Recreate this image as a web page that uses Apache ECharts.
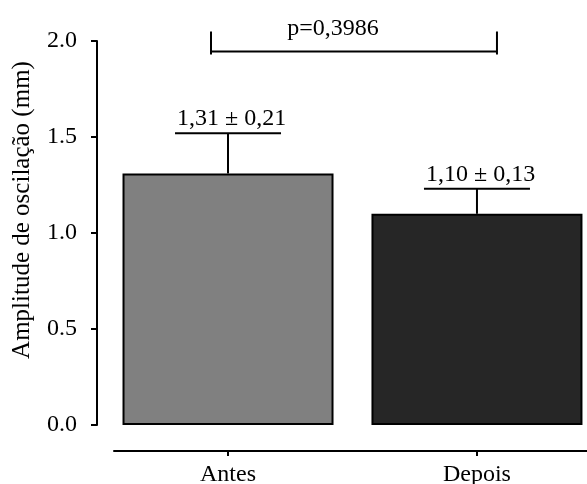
<!DOCTYPE html>
<html>
<head>
<meta charset="utf-8">
<script src="https://cdn.jsdelivr.net/npm/echarts@6/dist/echarts.min.js"></script>
<style>html,body{margin:0;padding:0;background:#fff}#c{width:587px;height:484px}</style>
</head>
<body>
<div id="c"></div>
<script>
const categories = ['Antes', 'Depois'];
const means = [1.31, 1.10];
const sds = [0.21, 0.13];
const pLabel = 'p=0,3986';
const yTicks = [0, 0.5, 1.0, 1.5, 2.0];
const barColors = ['#808080', '#262626'];
const yName = 'Amplitude de oscilação (mm)';

const FONT = 'Liberation Serif, Times New Roman, serif';
const fmt = v => v.toFixed(2).replace('.', ',');
const LW = 2;

const chart = echarts.init(document.getElementById('c'), null, {renderer: 'canvas'});
const idx = categories.map((c, i) => i);

chart.setOption({
  animation: false,
  backgroundColor: '#fff',
  grid: {left: 114, right: 0, top: 41, bottom: 59, containLabel: false, outerBoundsMode: 'none'},
  xAxis: {
    type: 'value', min: -0.458, max: 1.442, offset: 26,
    splitLine: {show: false},
    axisLine: {show: true, onZero: false, lineStyle: {color: '#000', width: LW}},
    axisTick: {show: true, customValues: idx, length: 5, lineStyle: {color: '#000', width: LW}},
    axisLabel: {customValues: idx, formatter: v => categories[Math.round(v)] || '', fontFamily: FONT, fontSize: 24, color: '#000', margin: 12}
  },
  yAxis: {
    type: 'value', min: yTicks[0], max: yTicks[yTicks.length - 1], interval: 0.5, offset: 17,
    splitLine: {show: false},
    axisLine: {show: true, onZero: false, lineStyle: {color: '#000', width: LW}},
    axisTick: {show: true, length: 6, lineStyle: {color: '#000', width: LW}},
    axisLabel: {formatter: v => v.toFixed(1), fontFamily: FONT, fontSize: 24, color: '#000', margin: 20},
    name: yName, nameLocation: 'middle', nameGap: 62,
    nameTextStyle: {fontFamily: FONT, fontSize: 25, color: '#000', padding: [0, 0, 0, 46]}
  },
  series: [
    {
      type: 'bar', barWidth: 211,
      data: idx.map(i => ({value: [i, means[i]], itemStyle: {color: barColors[i]}})),
      itemStyle: {borderColor: '#000', borderWidth: LW},
      z: 2
    },
    {
      type: 'custom', z: 3,
      data: idx.map(i => [i, means[i], sds[i]]),
      encode: {x: 0, y: 1},
      renderItem: function (params, api) {
        const x = api.value(0), m = api.value(1), s = api.value(2);
        const p0 = api.coord([x, m]);
        const p1 = api.coord([x, m + s]);
        const hw = 53;
        const st = {stroke: '#000', lineWidth: LW};
        return {
          type: 'group',
          children: [
            {type: 'line', shape: {x1: p0[0], y1: p0[1], x2: p1[0], y2: p1[1]}, style: st},
            {type: 'line', shape: {x1: p1[0] - hw, y1: p1[1], x2: p1[0] + hw, y2: p1[1]}, style: st},
            {type: 'text', style: {text: fmt(m) + ' ± ' + fmt(s), x: p1[0] - hw + 2, y: p1[1] - 2,
              align: 'left', verticalAlign: 'bottom', fontFamily: FONT, fontSize: 24, fill: '#000'}}
          ]
        };
      }
    },
    {
      type: 'custom', z: 3,
      data: [[0, 1]],
      renderItem: function (params, api) {
        const a = api.value(0), b = api.value(1);
        const top = api.coord([a, yTicks[yTicks.length - 1]])[1];
        const xa = api.coord([a, 0])[0] - 17;
        const xb = api.coord([b, 0])[0] + 20;
        const yl = top + 10.5;
        const st = {stroke: '#000', lineWidth: LW};
        return {
          type: 'group',
          children: [
            {type: 'line', shape: {x1: xa, y1: yl, x2: xb, y2: yl}, style: st},
            {type: 'line', shape: {x1: xa, y1: yl - 20, x2: xa, y2: yl + 3}, style: st},
            {type: 'line', shape: {x1: xb, y1: yl - 20, x2: xb, y2: yl + 3}, style: st},
            {type: 'text', style: {text: pLabel, x: xa + 122, y: yl - 11, align: 'center', verticalAlign: 'bottom',
              fontFamily: FONT, fontSize: 24, fill: '#000'}}
          ]
        };
      }
    }
  ]
});
</script>
</body>
</html>
